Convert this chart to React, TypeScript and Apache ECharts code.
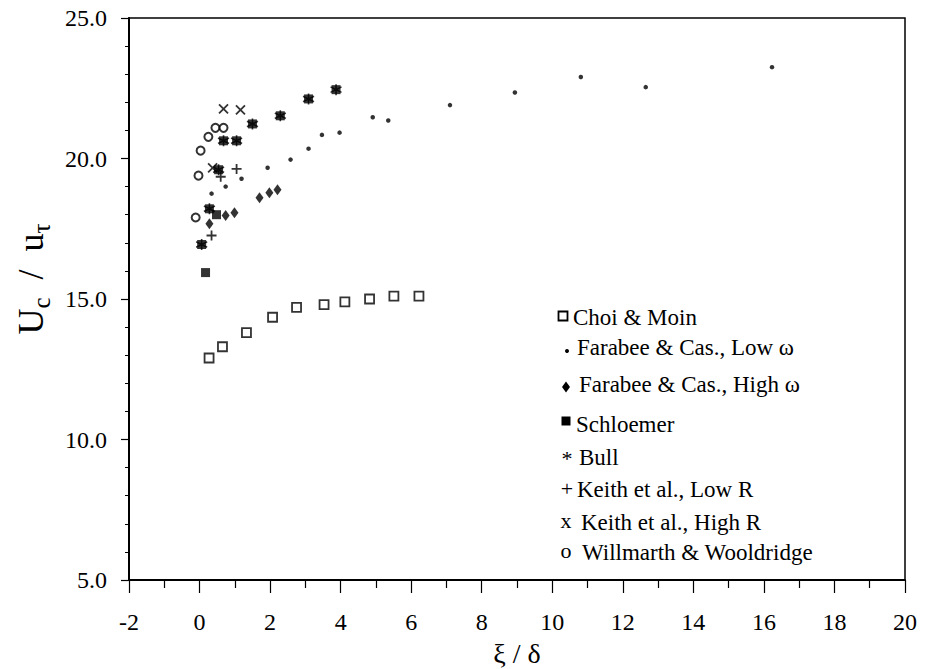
import React, { useEffect, useRef } from "react";
import * as echarts from "echarts";

// ---- Data (xi/delta, Uc/u_tau) ----
const choiMoin: number[][] = [
  [0.27, 12.9], [0.65, 13.3], [1.33, 13.8], [2.07, 14.35], [2.75, 14.7],
  [3.53, 14.8], [4.12, 14.9], [4.82, 15.0], [5.51, 15.1], [6.22, 15.1],
];
const farabeeLow: number[][] = [
  [0.34, 18.75], [0.74, 19.0], [1.19, 19.28], [1.93, 19.67], [2.58, 19.96],
  [3.09, 20.35], [3.47, 20.84], [3.97, 20.92], [4.91, 21.47], [5.35, 21.35],
  [7.1, 21.9], [8.94, 22.35], [10.81, 22.9], [12.65, 22.54], [16.23, 23.25],
];
const farabeeHigh: number[][] = [
  [0.28, 17.68], [0.74, 17.97], [0.99, 18.07], [1.7, 18.6], [1.98, 18.78], [2.21, 18.89],
];
const schloemer: number[][] = [
  [0.17, 15.94], [0.06, 16.94], [0.28, 18.21], [0.48, 18.0], [0.54, 19.6],
  [0.68, 20.63], [1.05, 20.63], [1.5, 21.23], [2.29, 21.52], [3.09, 22.12], [3.87, 22.45],
];
const bull: number[][] = [
  [0.06, 16.94], [0.28, 18.21], [0.54, 19.6], [0.68, 20.63], [1.05, 20.63],
  [1.5, 21.23], [2.29, 21.52], [3.09, 22.12], [3.87, 22.45],
];
const keithLow: number[][] = [[0.34, 17.26], [0.6, 19.35], [1.05, 19.63]];
const keithHigh: number[][] = [[0.37, 19.67], [0.68, 21.77], [1.16, 21.73]];
const willmarth: number[][] = [
  [-0.11, 17.9], [-0.03, 19.39], [0.03, 20.28], [0.25, 20.77], [0.45, 21.09], [0.68, 21.09],
];

const legendNames: string[] = [
  "Choi & Moin",
  "Farabee & Cas., Low ω",
  "Farabee & Cas., High ω",
  "Schloemer",
  "Bull",
  "Keith et al., Low R",
  "Keith et al., High R",
  "Willmarth & Wooldridge",
];

const SERIF = "Liberation Serif";

const ASTERISK = "path://M0,-5L0,5M-4.33,-2.5L4.33,2.5M-4.33,2.5L4.33,-2.5";
const PLUS = "path://M-5,0L5,0M0,-5L0,5";
const CROSS = "path://M-5,-5L5,5M-5,5L5,-5";

export default function App() {
  const ref = useRef<HTMLDivElement>(null);

  useEffect(() => {
    if (!ref.current) return;
    const chart = echarts.init(ref.current, undefined, { renderer: "svg" });

    // legend layout (positions only)
    const legX = [573, 577, 579, 576, 579, 577, 581, 582];
    const legY = [317, 347, 384, 424, 457, 489, 522, 552];
    const symX = [563, 567, 566, 566, 567, 567, 566, 566];
    const symY = [316, 351, 387, 421, 458, 488, 520, 550];

    const graphics: any[] = [];
    legendNames.forEach((name, i) => {
      graphics.push({
        type: "text",
        x: legX[i],
        y: legY[i],
        style: { text: name, font: `23px "${SERIF}"`, fill: "#000", align: "left", verticalAlign: "middle" },
      });
    });
    graphics.push({
      type: "rect", x: symX[0], y: symY[0],
      shape: { x: -4.5, y: -4.5, width: 9, height: 9 },
      style: { fill: "#fff", stroke: "#000", lineWidth: 1.8 },
    });
    graphics.push({ type: "circle", x: symX[1], y: symY[1], shape: { cx: 0, cy: 0, r: 2 }, style: { fill: "#000" } });
    graphics.push({
      type: "polygon", x: symX[2], y: symY[2],
      shape: { points: [[0, -5.5], [4, 0], [0, 5.5], [-4, 0]] },
      style: { fill: "#000" },
    });
    graphics.push({
      type: "rect", x: symX[3], y: symY[3],
      shape: { x: -4.5, y: -4.5, width: 9, height: 9 },
      style: { fill: "#000" },
    });
    ["*", "+", "x", "o"].forEach((t, k) => {
      const i = k + 4;
      graphics.push({
        type: "text", x: symX[i], y: symY[i],
        style: { text: t, font: `22px "${SERIF}"`, fill: "#000", align: "center", verticalAlign: "middle" },
      });
    });

    const base = { type: "scatter", silent: true };
    chart.setOption({
      animation: false,
      backgroundColor: "#fff",
      textStyle: { fontFamily: SERIF },
      grid: {
        left: 129, top: 18, right: 20, bottom: 89,
        outerBoundsMode: "none", containLabel: false,
        show: true, borderColor: "#000", borderWidth: 1.5, backgroundColor: "transparent",
      },
      xAxis: {
        type: "value", min: -2, max: 20, interval: 2,
        name: "ξ / δ", nameLocation: "middle", nameGap: 52,
        nameTextStyle: { fontFamily: SERIF, fontSize: 28, color: "#000", lineHeight: 30 },
        axisLine: { onZero: false, lineStyle: { color: "#000", width: 2 } },
        axisTick: { length: 13, lineStyle: { color: "#000", width: 1.2 } },
        minorTick: { show: true, splitNumber: 2, length: 8, lineStyle: { color: "#000", width: 1.2 } },
        splitLine: { show: false },
        axisLabel: { fontFamily: SERIF, fontSize: 24, color: "#000", margin: 30 },
      },
      yAxis: {
        type: "value", min: 5, max: 25, interval: 5,
        name: "{a|U}{s|c}{a|  /  u}{s|τ}", nameLocation: "middle", nameGap: 70,
        nameTextStyle: {
          padding: [0, 0, 0, 40],
          rich: {
            a: { fontFamily: SERIF, fontSize: 36, color: "#000", lineHeight: 46, verticalAlign: "middle" },
            s: { fontFamily: SERIF, fontSize: 25, color: "#000", lineHeight: 46, verticalAlign: "bottom" },
          },
        },
        axisLine: { onZero: false, lineStyle: { color: "#000", width: 2 } },
        axisTick: { length: 8, lineStyle: { color: "#000", width: 1.2 } },
        minorTick: { show: true, splitNumber: 5, length: 4, lineStyle: { color: "#000", width: 1 } },
        splitLine: { show: false },
        axisLabel: {
          fontFamily: SERIF, fontSize: 24, color: "#000", margin: 22,
          formatter: (v: number) => v.toFixed(1),
        },
      },
      series: [
        { ...base, name: legendNames[0], data: choiMoin, symbol: "rect", symbolSize: 9,
          itemStyle: { color: "#fff", borderColor: "#000", borderWidth: 1.8 } },
        { ...base, name: legendNames[1], data: farabeeLow, symbol: "circle", symbolSize: 4.5,
          itemStyle: { color: "#000" } },
        { ...base, name: legendNames[2], data: farabeeHigh, symbol: "diamond", symbolSize: [8, 11],
          itemStyle: { color: "#000" } },
        { ...base, name: legendNames[3], data: schloemer, symbol: "rect", symbolSize: 9,
          itemStyle: { color: "#000" } },
        { ...base, name: legendNames[4], data: bull, symbol: ASTERISK, symbolSize: 11,
          itemStyle: { color: "none", borderColor: "#000", borderWidth: 1.6 } },
        { ...base, name: legendNames[5], data: keithLow, symbol: PLUS, symbolSize: 10,
          itemStyle: { color: "none", borderColor: "#000", borderWidth: 1.8 } },
        { ...base, name: legendNames[6], data: keithHigh, symbol: CROSS, symbolSize: 9,
          itemStyle: { color: "none", borderColor: "#000", borderWidth: 1.8 } },
        { ...base, name: legendNames[7], data: willmarth, symbol: "emptyCircle", symbolSize: 8,
          itemStyle: { color: "#000", borderColor: "#000", borderWidth: 1.8 } },
      ],
      graphic: graphics,
    });

    return () => chart.dispose();
  }, []);

  return (
    <div
      ref={ref}
      style={{ position: "fixed", left: 0, top: 0, width: 925, height: 669, background: "#fff" }}
    />
  );
}
